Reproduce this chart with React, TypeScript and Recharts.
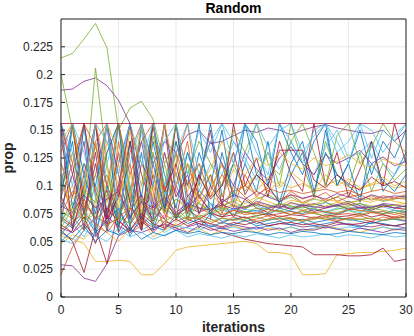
import { LineChart, Line, XAxis, YAxis, CartesianGrid, ReferenceLine } from "recharts";

// proportions are kept in per-mille (0.156 -> 156), axis shows them as fractions
const iterations = [0, 1, 2, 3, 4, 5, 6, 7, 8, 9, 10, 11, 12, 13, 14, 15, 16, 17, 18, 19, 20, 21, 22, 23, 24, 25, 26, 27, 28, 29, 30];
const xTicks = [0, 5, 10, 15, 20, 25, 30];
const yTicks = [0, 25, 50, 75, 100, 125, 150, 175, 200, 225];

// MATLAB default colour order, cycled over the runs
const COLORS = ["#0072BD", "#D95319", "#EDB120", "#7E2F8E", "#77AC30", "#4DBEEE", "#A2142F"];

const run01 = [62, 156, 88, 140, 70, 156, 95, 60, 130, 78, 112, 70, 96, 84, 72, 80, 76, 78, 74, 80, 77, 75, 79, 76, 74, 78, 80, 77, 75, 78, 76];
const run02 = [20, 45, 60, 72, 66, 70, 58, 64, 76, 70, 62, 68, 74, 70, 66, 72, 68, 70, 73, 69, 71, 68, 70, 72, 69, 71, 70, 68, 72, 70, 69];
const run03 = [55, 52, 48, 32, 32, 33, 32, 20, 20, 30, 42, 45, 46, 47, 48, 49, 50, 48, 40, 40, 38, 20, 20, 21, 38, 39, 40, 40, 41, 42, 44];
const run04 = [29, 28, 17, 14, 30, 55, 60, 58, 62, 65, 60, 63, 66, 64, 62, 65, 63, 61, 64, 66, 65, 63, 64, 62, 65, 66, 64, 63, 65, 64, 62];
const run05 = [215, 219, 232, 246, 224, 150, 170, 176, 160, 120, 140, 100, 90, 110, 85, 95, 80, 88, 92, 86, 90, 84, 88, 86, 90, 85, 87, 89, 86, 88, 90];
const run06 = [70, 78, 90, 82, 75, 88, 80, 72, 85, 78, 74, 80, 76, 82, 78, 75, 79, 77, 80, 76, 78, 81, 79, 77, 80, 78, 76, 79, 81, 78, 77];
const run07 = [60, 50, 22, 62, 30, 80, 60, 72, 58, 68, 64, 70, 66, 62, 58, 55, 52, 50, 48, 47, 46, 45, 38, 38, 38, 37, 37, 38, 44, 32, 34];

const run08 = [95, 140, 60, 156, 75, 120, 156, 70, 140, 90, 156, 80, 130, 100, 150, 85, 120, 95, 140, 80, 110, 130, 90, 150, 100, 120, 85, 140, 95, 110, 130];
const run09 = [110, 70, 156, 90, 60, 140, 85, 156, 75, 100, 70, 90, 80, 75, 72, 78, 74, 76, 73, 75, 77, 74, 76, 72, 74, 75, 73, 76, 74, 72, 75];
const run10 = [85, 100, 70, 120, 95, 65, 110, 80, 90, 75, 88, 82, 79, 84, 80, 83, 81, 85, 82, 80, 84, 83, 81, 82, 85, 83, 84, 82, 81, 83, 84];
const run11 = [186, 187, 194, 197, 190, 177, 156, 60, 120, 140, 130, 146, 150, 138, 140, 145, 150, 148, 152, 150, 146, 150, 153, 155, 152, 150, 148, 147, 150, 140, 150];
const run12 = [200, 150, 90, 206, 120, 60, 140, 100, 156, 80, 130, 70, 110, 90, 100, 120, 95, 110, 130, 100, 156, 120, 90, 140, 110, 100, 130, 95, 120, 105, 115];
const run13 = [75, 65, 80, 60, 90, 70, 100, 85, 65, 95, 72, 88, 76, 84, 80, 78, 86, 82, 79, 84, 81, 83, 80, 85, 82, 79, 84, 81, 83, 80, 82];
const run14 = [100, 156, 75, 130, 60, 95, 156, 110, 80, 156, 70, 120, 90, 78, 85, 72, 88, 80, 76, 84, 79, 82, 77, 80, 83, 79, 81, 78, 82, 80, 79];

const run15 = [50, 60, 156, 55, 100, 65, 80, 130, 60, 90, 70, 85, 62, 75, 68, 70, 72, 66, 69, 71, 68, 70, 67, 69, 71, 70, 68, 66, 69, 70, 68];
const run16 = [130, 156, 80, 110, 156, 90, 120, 60, 156, 85, 100, 140, 75, 95, 120, 80, 110, 90, 100, 85, 95, 88, 92, 86, 90, 94, 88, 91, 87, 89, 92];
const run17 = [65, 90, 120, 70, 140, 100, 156, 75, 110, 130, 90, 105, 85, 98, 120, 92, 100, 110, 95, 104, 98, 102, 96, 100, 105, 99, 97, 101, 103, 98, 100];
const run18 = [90, 70, 110, 156, 100, 75, 95, 140, 85, 70, 100, 80, 92, 76, 88, 82, 79, 86, 83, 80, 85, 82, 84, 81, 83, 86, 82, 80, 84, 83, 81];
const run19 = [55, 72, 60, 88, 130, 156, 70, 90, 64, 120, 80, 70, 85, 75, 78, 82, 76, 80, 79, 77, 81, 78, 80, 76, 79, 81, 77, 80, 78, 76, 79];
const run20 = [140, 100, 156, 65, 120, 156, 90, 150, 70, 156, 100, 130, 95, 120, 110, 140, 125, 105, 130, 115, 140, 120, 110, 135, 150, 125, 130, 140, 120, 110, 125];
const run21 = [72, 64, 88, 70, 96, 58, 78, 92, 68, 84, 74, 80, 70, 76, 72, 74, 71, 73, 75, 72, 74, 73, 71, 74, 72, 73, 75, 72, 74, 71, 73];

const run22 = [70, 62, 75, 58, 68, 80, 55, 72, 64, 60, 74, 66, 70, 63, 67, 65, 69, 64, 66, 68, 65, 67, 64, 66, 68, 65, 63, 67, 66, 64, 66];
const run23 = [156, 120, 60, 140, 156, 70, 130, 156, 95, 60, 120, 156, 88, 110, 75, 100, 90, 82, 96, 88, 92, 85, 89, 94, 86, 90, 92, 87, 91, 89, 88];
const run24 = [48, 56, 52, 64, 58, 50, 62, 70, 54, 60, 66, 58, 62, 56, 60, 64, 61, 58, 62, 60, 63, 59, 61, 64, 62, 60, 58, 61, 63, 60, 62];
const run25 = [120, 90, 140, 60, 156, 110, 70, 120, 100, 156, 95, 80, 110, 140, 120, 100, 130, 115, 105, 125, 135, 120, 110, 128, 120, 125, 132, 120, 126, 118, 122];
const run26 = [68, 85, 70, 100, 78, 92, 66, 88, 74, 82, 70, 78, 72, 76, 80, 74, 77, 73, 76, 78, 74, 77, 75, 73, 76, 78, 74, 77, 75, 76, 74];
const run27 = [58, 66, 54, 72, 62, 56, 70, 60, 66, 58, 64, 62, 60, 65, 61, 63, 60, 62, 64, 61, 63, 60, 62, 64, 61, 63, 62, 60, 63, 61, 62];
const run28 = [80, 110, 156, 95, 70, 130, 85, 60, 110, 75, 156, 90, 105, 150, 80, 156, 100, 125, 90, 140, 110, 95, 156, 100, 130, 90, 115, 140, 100, 156, 120];

const run29 = [156, 80, 120, 100, 156, 60, 140, 90, 156, 110, 80, 130, 100, 156, 90, 120, 156, 140, 100, 156, 130, 110, 140, 156, 100, 120, 150, 110, 140, 125, 150];
const run30 = [75, 95, 85, 70, 80, 100, 65, 85, 78, 88, 72, 82, 76, 80, 74, 78, 76, 75, 79, 77, 74, 78, 76, 77, 75, 79, 78, 76, 77, 74, 77];
const run31 = [110, 75, 95, 140, 85, 120, 78, 100, 130, 88, 110, 95, 120, 105, 90, 115, 100, 95, 108, 98, 112, 104, 96, 110, 100, 106, 98, 102, 108, 100, 104];
const run32 = [62, 58, 66, 54, 72, 64, 58, 68, 60, 66, 62, 58, 64, 60, 62, 59, 61, 63, 60, 62, 58, 61, 60, 63, 61, 59, 62, 60, 58, 61, 60];
const run33 = [95, 130, 75, 110, 90, 156, 100, 65, 145, 100, 156, 110, 140, 120, 100, 150, 130, 156, 120, 110, 140, 156, 130, 100, 145, 156, 120, 135, 156, 140, 130];
const run34 = [52, 48, 60, 55, 50, 62, 54, 58, 52, 56, 60, 54, 57, 55, 53, 56, 54, 57, 55, 53, 56, 54, 55, 57, 54, 56, 55, 53, 56, 54, 55];
const run35 = [65, 58, 72, 48, 80, 68, 60, 75, 66, 62, 70, 64, 68, 66, 63, 67, 65, 68, 64, 66, 67, 65, 66, 64, 67, 65, 66, 68, 65, 64, 66];

const run36 = [88, 156, 110, 75, 130, 156, 60, 156, 120, 80, 140, 100, 156, 70, 130, 90, 156, 110, 100, 85, 120, 140, 95, 130, 110, 100, 90, 120, 105, 95, 110];
const run37 = [60, 68, 75, 66, 58, 72, 80, 70, 62, 74, 68, 72, 70, 66, 71, 69, 72, 68, 70, 73, 71, 69, 72, 70, 68, 71, 73, 70, 69, 72, 71];
const run38 = [140, 156, 100, 80, 156, 130, 90, 156, 110, 75, 100, 120, 85, 95, 80, 88, 84, 90, 86, 82, 87, 85, 83, 88, 86, 84, 87, 85, 89, 86, 84];
const run39 = [156, 110, 75, 120, 65, 100, 156, 85, 70, 130, 90, 110, 75, 100, 85, 92, 88, 95, 90, 86, 92, 89, 91, 88, 93, 90, 87, 92, 89, 91, 90];
const run40 = [78, 70, 95, 85, 110, 74, 90, 82, 100, 76, 88, 80, 84, 78, 82, 86, 80, 83, 81, 84, 82, 80, 83, 85, 81, 82, 84, 80, 83, 82, 81];
const run41 = [100, 156, 130, 90, 156, 75, 120, 156, 100, 140, 156, 110, 150, 130, 156, 140, 120, 156, 135, 150, 156, 130, 145, 156, 140, 120, 156, 150, 130, 145, 156];
const run42 = [150, 60, 100, 156, 70, 90, 140, 65, 156, 95, 120, 75, 110, 88, 100, 130, 92, 110, 100, 132, 132, 132, 105, 98, 110, 102, 96, 108, 100, 104, 98];

const run43 = [58, 52, 64, 50, 60, 56, 62, 52, 58, 55, 60, 57, 59, 56, 58, 57, 59, 58, 56, 58, 57, 59, 58, 56, 57, 59, 58, 57, 56, 58, 57];
const run44 = [90, 120, 156, 135, 100, 156, 110, 140, 156, 95, 130, 100, 120, 90, 110, 95, 100, 92, 98, 94, 96, 93, 95, 97, 94, 96, 92, 95, 97, 93, 95];
const run45 = [120, 88, 100, 156, 115, 80, 150, 120, 90, 156, 110, 120, 100, 115, 140, 120, 110, 125, 118, 130, 120, 115, 125, 118, 122, 128, 120, 116, 124, 120, 118];
const run46 = [82, 76, 92, 80, 88, 95, 72, 86, 80, 90, 76, 84, 80, 78, 83, 79, 81, 84, 80, 82, 79, 83, 81, 80, 82, 84, 80, 81, 83, 80, 82];
const run47 = [62, 80, 68, 75, 64, 72, 66, 78, 70, 68, 74, 70, 72, 68, 71, 69, 70, 72, 69, 71, 70, 68, 71, 70, 72, 69, 70, 71, 69, 70, 72];
const run48 = [156, 130, 100, 156, 140, 110, 156, 120, 156, 100, 130, 156, 110, 140, 156, 120, 156, 130, 110, 156, 140, 120, 150, 156, 130, 140, 156, 125, 150, 140, 156];
const run49 = [156, 156, 156, 156, 156, 156, 156, 156, 156, 156, 156, 156, 156, 156, 156, 156, 156, 156, 156, 156, 156, 156, 156, 156, 156, 156, 156, 156, 156, 156, 156];

const runs = [
  run01, run02, run03, run04, run05, run06, run07,
  run08, run09, run10, run11, run12, run13, run14,
  run15, run16, run17, run18, run19, run20, run21,
  run22, run23, run24, run25, run26, run27, run28,
  run29, run30, run31, run32, run33, run34, run35,
  run36, run37, run38, run39, run40, run41, run42,
  run43, run44, run45, run46, run47, run48, run49,
];

const data = iterations.map((it, i) => {
  const row: Record<string, number> = { it };
  runs.forEach((r, k) => {
    row[`r${k}`] = r[i];
  });
  return row;
});

const FONT = '"Liberation Sans", Arial, Helvetica, sans-serif';
const tickStyle = { fontSize: 12, fill: "#262626", fontFamily: FONT };
const AXIS = "#262626";

export default function App() {
  return (
    <div style={{ position: "relative", width: 414, height: 336, background: "#fff", fontFamily: FONT }}>
      <style>{"body{margin:0}"}</style>
      <div style={{ position: "absolute", left: 61, width: 345, top: 0, textAlign: "center", fontSize: 14, fontWeight: "bold", color: "#000", lineHeight: "16px" }}>
        Random
      </div>
      <div style={{ position: "absolute", left: 61, width: 345, top: 319, textAlign: "center", fontSize: 14, fontWeight: "bold", color: "#262626", lineHeight: "16px" }}>
        iterations
      </div>
      <div
        style={{
          position: "absolute",
          left: 8,
          top: 158,
          transform: "translate(-50%, -50%) rotate(-90deg)",
          fontSize: 14,
          fontWeight: "bold",
          color: "#262626",
          lineHeight: "16px",
          whiteSpace: "nowrap",
        }}
      >
        prop
      </div>
      <LineChart width={414} height={336} data={data} margin={{ top: 19, right: 8, bottom: 0, left: 0 }}>
        <CartesianGrid stroke="#e3e3e3" strokeWidth={0.8} />
        <XAxis
          dataKey="it"
          type="number"
          domain={[0, 30]}
          ticks={xTicks}
          height={39}
          tick={tickStyle}
          tickSize={-4}
          tickMargin={12}
          stroke={AXIS}
          axisLine={{ stroke: AXIS }}
          tickLine={{ stroke: AXIS }}
        />
        <YAxis
          type="number"
          domain={[0, 250]}
          ticks={yTicks}
          width={61}
          tick={tickStyle}
          tickSize={-4}
          tickMargin={12}
          tickFormatter={(v: number) => `${v / 1000}`}
          axisLine={{ stroke: AXIS }}
          tickLine={{ stroke: AXIS }}
          allowDataOverflow
        />
        {runs.map((_, k) => (
          <Line
            key={k}
            dataKey={`r${k}`}
            type="linear"
            stroke={COLORS[k % COLORS.length]}
            strokeWidth={0.8}
            dot={false}
            activeDot={false}
            isAnimationActive={false}
          />
        ))}
        <ReferenceLine y={250} stroke={AXIS} strokeWidth={1} />
        <ReferenceLine x={30} stroke={AXIS} strokeWidth={1} />
      </LineChart>
    </div>
  );
}
